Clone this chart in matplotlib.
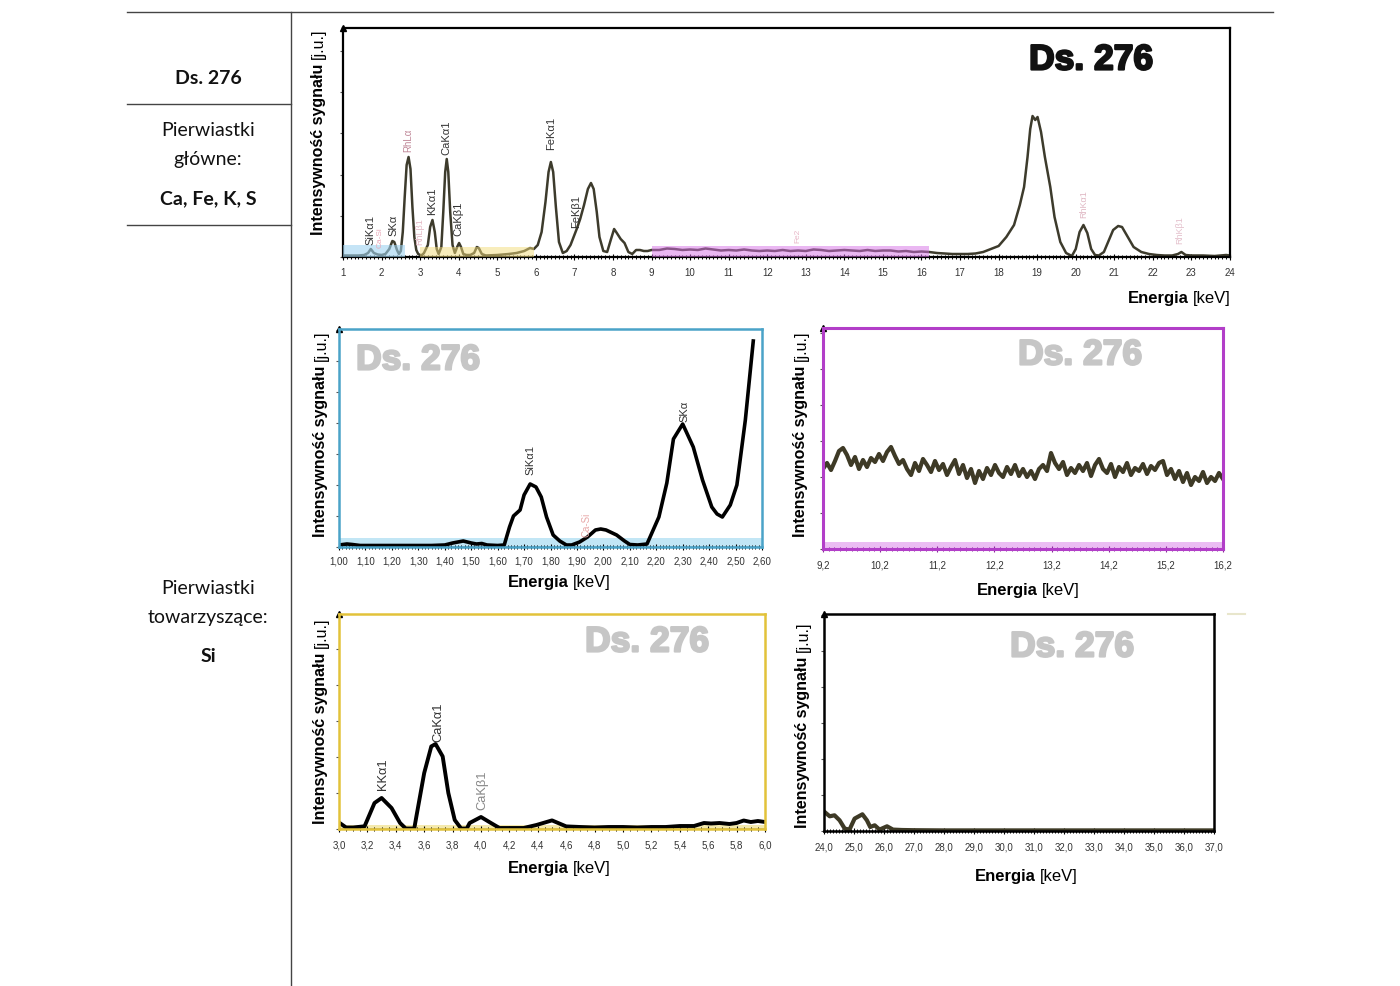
import numpy as np
import matplotlib
matplotlib.use('Agg')
import matplotlib.pyplot as plt
import matplotlib.patheffects as pe
from matplotlib.ticker import MultipleLocator

W, H = 1400, 986
NARROW = ['Liberation Sans Narrow', 'Liberation Sans', 'DejaVu Sans']
ARIAL = ['Liberation Sans', 'DejaVu Sans']
TABLE = ['Lato', 'DejaVu Sans']
plt.rcParams['font.family'] = NARROW

# full spectrum 1-24 keV (intensity in arbitrary units)
main_kev = [1.00, 1.20, 1.40, 1.55, 1.65, 1.72, 1.80, 1.90, 2.00, 2.10, 2.20, 2.28, 2.33, 2.40,
            2.45, 2.50, 2.55, 2.60, 2.65, 2.70, 2.75, 2.80, 2.85, 2.90, 2.95, 3.00, 3.05, 3.10,
            3.20, 3.26, 3.32, 3.38, 3.43, 3.48, 3.55, 3.60, 3.65, 3.69, 3.73, 3.78, 3.84, 3.90,
            3.96, 4.01, 4.06, 4.12, 4.20, 4.30, 4.40, 4.47, 4.52, 4.60, 4.70, 5.00, 5.30, 5.50,
            5.70, 5.85, 5.95, 6.05, 6.15, 6.25, 6.33, 6.39, 6.45, 6.52, 6.60, 6.70, 6.80, 6.90,
            7.00, 7.06, 7.15, 7.25, 7.35, 7.43, 7.50, 7.58, 7.65, 7.75, 7.85, 7.95, 8.03, 8.10,
            8.20, 8.30, 8.40, 8.50, 8.60, 8.70, 8.80, 8.90, 9.00,
            9.2, 9.4, 9.6, 9.8, 10.0, 10.2, 10.4, 10.6, 10.8, 11.0, 11.2, 11.4, 11.6, 11.8,
            12.0, 12.2, 12.4, 12.6, 12.8, 13.0, 13.2, 13.4, 13.6, 13.8, 14.0, 14.2, 14.4, 14.6,
            14.8, 15.0, 15.2, 15.4, 15.6, 15.8, 16.0, 16.2,
            16.4, 16.6, 16.8, 17.0, 17.2, 17.4, 17.6, 17.8, 18.0, 18.2, 18.4, 18.55, 18.66,
            18.75, 18.82, 18.88, 18.95, 19.01, 19.10, 19.20, 19.34, 19.45, 19.60, 19.75, 19.90,
            20.00, 20.10, 20.20, 20.30, 20.40, 20.50, 20.60, 20.73, 20.85, 20.97, 21.10, 21.20,
            21.35, 21.50, 21.70, 21.90, 22.10, 22.30, 22.50, 22.65, 22.74, 22.85, 23.00, 23.30,
            23.60, 23.90, 24.00]
main_int = [1.5, 1.5, 1.5, 2, 4, 8, 4, 2.5, 2, 3, 8, 16, 15, 7,
            3, 6, 25, 60, 92, 100, 88, 50, 20, 7, 3, 2, 2, 4,
            12, 30, 37, 25, 8, 3, 10, 45, 85, 98, 85, 45, 12, 4,
            10, 14, 10, 3, 2, 2, 4, 10, 9, 3, 1.5, 2, 3, 4,
            6, 9, 8, 12, 25, 55, 85, 95, 85, 50, 15, 4, 6, 12,
            22, 28, 38, 52, 68, 74, 68, 45, 20, 6, 5, 18, 28, 24,
            18, 14, 5, 3, 7, 7, 6, 6, 7,
            7, 8.5, 8, 7, 7.5, 7, 8.5, 7.5, 6.5, 7, 6.5, 7.5, 6.5, 6,
            6.5, 6, 7, 6, 6.5, 6, 7.5, 7, 6, 6.5, 7, 6.5, 6, 7,
            6, 6.5, 6.5, 5.5, 6, 5, 5.5, 5,
            4, 3.5, 3, 3, 3, 3.5, 5, 8, 11, 20, 32, 52, 70,
            100, 128, 141, 137, 140, 125, 100, 70, 40, 15, 4, 1,
            8, 25, 32, 24, 8, 2, 1.5, 5, 16, 27, 31, 30,
            20, 10, 5, 3, 2, 1.5, 1.5, 3, 5, 2, 1.5, 1.5,
            1, 2, 1.5]
main_ticks = list(range(1, 25))

# zoom 1.00-2.60 keV
si_kev = [1.00, 1.03, 1.05, 1.08, 1.20, 1.35, 1.40, 1.43, 1.47, 1.50, 1.52, 1.54, 1.56, 1.60,
          1.625, 1.645, 1.66, 1.685, 1.70, 1.723, 1.745, 1.765, 1.785, 1.81, 1.835, 1.86, 1.88,
          1.91, 1.94, 1.97, 1.99, 2.01, 2.05, 2.08, 2.10, 2.13, 2.165, 2.19, 2.21, 2.24, 2.265,
          2.30, 2.34, 2.375, 2.41, 2.43, 2.45, 2.48, 2.505, 2.537, 2.567]
si_int = [2, 3, 2.5, 1.5, 1.5, 1.5, 2, 4, 6, 4, 3, 3.5, 2, 1.5,
          2, 20, 31, 37, 52, 63, 60, 50, 30, 12, 6, 2, 2,
          5, 10, 17, 18, 17, 12, 6, 2.5, 2, 3, 18, 30, 64, 108,
          123, 100, 67, 40, 33, 30, 42, 62, 127, 206]
si_ticks = [1.00, 1.10, 1.20, 1.30, 1.40, 1.50, 1.60, 1.70, 1.80, 1.90, 2.00, 2.10, 2.20,
            2.30, 2.40, 2.50, 2.60]

# zoom 9.2-16.2 keV
mid_kev = np.round(np.arange(9.2, 16.2001, 0.07), 2)
mid_int = [80, 86, 79, 88, 98, 101, 94, 84, 92, 80, 89, 82, 91, 87, 95, 88, 97, 102, 93, 85,
           89, 80, 74, 86, 78, 90, 84, 77, 88, 79, 85, 74, 82, 89, 75, 84, 71, 80, 66, 78,
           70, 81, 74, 84, 76, 72, 82, 75, 84, 73, 80, 72, 78, 70, 80, 84, 78, 96, 86, 80,
           87, 74, 81, 76, 84, 78, 86, 73, 84, 90, 80, 76, 85, 72, 82, 77, 86, 74, 81, 78,
           85, 75, 83, 79, 86, 88, 74, 80, 70, 78, 67, 76, 64, 72, 68, 77, 66, 72, 68, 76, 70]
mid_ticks = [9.2, 10.2, 11.2, 12.2, 13.2, 14.2, 15.2, 16.2]

# zoom 3.0-6.0 keV
ca_kev = [3.00, 3.05, 3.10, 3.18, 3.25, 3.30, 3.37, 3.43, 3.47, 3.53, 3.545, 3.60, 3.65, 3.68,
          3.73, 3.77, 3.815, 3.86, 3.90, 3.92, 4.00, 4.07, 4.13, 4.20, 4.30, 4.39, 4.50, 4.60,
          4.70, 4.80, 4.90, 5.00, 5.10, 5.20, 5.30, 5.40, 5.50, 5.57, 5.62, 5.68, 5.75, 5.80,
          5.85, 5.90, 5.95, 6.00]
ca_int = [6.5, 1.5, 1.5, 2.7, 26, 31, 21, 6, 0.5, 0.5, 12.6, 56, 82.6, 85,
          72.6, 36, 9, 0.5, 0.5, 6, 12, 6, 1, 1, 1, 4, 8.6, 2.6,
          2, 1.5, 2, 2, 1.5, 2, 2, 3, 3, 6, 5.5, 6, 5, 6,
          8.5, 7, 8, 7]
ca_ticks = [3.0, 3.2, 3.4, 3.6, 3.8, 4.0, 4.2, 4.4, 4.6, 4.8, 5.0, 5.2, 5.4, 5.6, 5.8, 6.0]

# zoom 24-37 keV
hi_kev = [24.02, 24.19, 24.35, 24.52, 24.69, 24.85, 25.02, 25.28, 25.43, 25.54, 25.69, 25.85,
          26.10, 26.30, 26.60, 27.0, 28.0, 29.0, 30.0, 31.0, 32.0, 33.0, 34.0, 35.0, 36.0, 37.0]
hi_int = [19, 14.7, 15.7, 10.7, 2.4, 1.4, 12.4, 16.7, 10.7, 4, 5.7, 1.4,
          4.7, 1.4, 1, 0.8, 0.6, 0.6, 0.6, 0.6, 0.6, 0.6, 0.6, 0.6, 0.6, 0.6]
hi_ticks = list(range(24, 38))

fig = plt.figure(figsize=(14, 9.86), dpi=100)
bg = fig.add_axes([0, 0, 1, 1])
bg.set_xlim(0, W)
bg.set_ylim(H, 0)
bg.axis('off')


def px_axes(x0, y0, x1, y1):
    a = fig.add_axes([x0 / W, 1 - y1 / H, (x1 - x0) / W, (y1 - y0) / H])
    a.set_facecolor('none')
    return a


def style(ax, frame, lw, xlim, ylim, ticks, labels, minor, ystep, pad):
    ax.set_xlim(xlim)
    ax.set_ylim(ylim)
    for s in ax.spines.values():
        s.set_color(frame)
        s.set_linewidth(lw)
    ax.set_xticks(ticks)
    ax.set_xticklabels(labels)
    ax.xaxis.set_minor_locator(MultipleLocator(minor))
    ax.tick_params(axis='x', which='major', direction='inout', length=4, width=0.8, color='k',
                   labelsize=7, labelcolor='#333333', pad=pad)
    ax.tick_params(axis='x', which='minor', direction='inout', length=3, width=0.7, color='k')
    ax.set_yticks(np.arange(0, ylim[1], ystep))
    ax.set_yticklabels([])
    ax.tick_params(axis='y', direction='out', length=2.5, width=0.8, color='#555555')
    ax.plot([0], [1], marker='^', ms=4, color='k', transform=ax.transAxes, clip_on=False)


def two_part(x, y, bold, normal, size, vertical):
    if vertical:
        t = bg.text(x, y, bold, rotation=90, ha='center', va='bottom', fontsize=size,
                    fontweight='bold')
        bg.annotate(normal, xy=(0.5, 1), xycoords=t, xytext=(0, 3.5), textcoords='offset points',
                    rotation=90, ha='center', va='bottom', fontsize=size)
    else:
        t = bg.text(x, y, bold, ha='left', va='center', fontsize=size, fontweight='bold')
        bg.annotate(normal, xy=(1, 0.5), xycoords=t, xytext=(3, 0), textcoords='offset points',
                    ha='left', va='center', fontsize=size)


def peak_label(ax, x, y, s, color='#333333', size=8):
    ax.text(x, y, s, rotation=90, ha='center', va='bottom', fontsize=size, color=color,
            family=ARIAL)


def stamp(x, y, color):
    bg.text(x, y, 'Ds. 276', ha='center', va='center', fontsize=25.5, fontweight='heavy',
            family=ARIAL, color=color, zorder=0,
            path_effects=[pe.withStroke(linewidth=1.6, foreground=color)])


def comma(v, d):
    return f'{v:.{d}f}'.replace('.', ',')


# table on the left
line_kw = dict(color='#444444', lw=1)
bg.plot([127, 1273], [12, 12], **line_kw)
bg.plot([291, 291], [12, 986], **line_kw)
bg.plot([127, 291], [104, 104], **line_kw)
bg.plot([127, 291], [225, 225], **line_kw)
bg.plot([1228, 1245], [614, 614], color='#e8e6cc', lw=1.5)
tkw = dict(ha='center', va='center', fontsize=14, family=TABLE, color='#111111')
bg.text(208, 78, 'Ds. 276', fontweight='bold', **tkw)
bg.text(208, 131, 'Pierwiastki', **tkw)
bg.text(208, 160, 'główne:', **tkw)
bg.text(208, 199, 'Ca, Fe, K, S', fontweight='bold', **tkw)
bg.text(208, 589, 'Pierwiastki', **tkw)
bg.text(208, 618, 'towarzyszące:', **tkw)
bg.text(208, 657, 'Si', fontweight='bold', **tkw)

# main panel
ax = px_axes(343, 28, 1230, 257)
style(ax, 'k', 1.6, (1, 24), (0, 229), main_ticks, [str(t) for t in main_ticks], 0.1, 41.2, 6)
ax.plot(main_kev, main_int, color='#3d3b2c', lw=1.8, zorder=2)
ax.axvspan(1.0, 2.6, ymax=12 / 229, color='#9fd3f0', alpha=0.6, lw=0, zorder=3)
ax.axvspan(3.0, 5.95, ymax=10 / 229, color='#f2dc7a', alpha=0.5, lw=0, zorder=3)
ax.axvspan(9.0, 16.2, ymax=11 / 229, color='#d670e6', alpha=0.5, lw=0, zorder=3)
peak_label(ax, 1.72, 12, 'SiKα1')
peak_label(ax, 1.97, 9, 'Ca-Si', '#e8a8b8', 6)
peak_label(ax, 2.31, 21, 'SKα')
peak_label(ax, 2.70, 105, 'RhLα', '#c08898', 7)
peak_label(ax, 3.00, 12, 'RhLβ1', '#e4b8c4', 6.5)
peak_label(ax, 3.31, 42, 'KKα1')
peak_label(ax, 3.69, 102, 'CaKα1')
peak_label(ax, 4.00, 21, 'CaKβ1')
peak_label(ax, 6.40, 107, 'FeKα1')
peak_label(ax, 7.05, 29, 'FeKβ1')
peak_label(ax, 12.8, 14, 'Fe2', '#e8b8c8', 6)
peak_label(ax, 20.2, 39, 'RhKα1', '#e0b8c4', 6.5)
peak_label(ax, 22.7, 13, 'RhKβ1', '#e4c0cc', 6.5)
stamp(1091, 60, '#111111')
two_part(1128, 299, 'Energia', '[keV]', 12, False)
two_part(318, 235, 'Intensywność sygnału', '[j.u.]', 11.5, True)

# Si / S window
ax = px_axes(339, 329, 762, 547)
style(ax, '#4aa3c8', 1.8, (1.0, 2.6), (0, 218), si_ticks, [comma(t, 2) for t in si_ticks],
      0.0125, 31, 5)
ax.axhspan(0, 9, color='#a9dcf2', alpha=0.7, lw=0)
ax.axhline(0, color='k', lw=1)
ax.plot(si_kev, si_int, color='k', lw=2.6)
peak_label(ax, 1.723, 72, 'SiKα1')
peak_label(ax, 1.935, 10, 'Ca-Si', '#e8a8a8', 7)
peak_label(ax, 2.306, 125, 'SKα')
stamp(418, 360, '#c6c6c6')
two_part(508, 583, 'Energia', '[keV]', 12, False)
two_part(321, 537, 'Intensywność sygnału', '[j.u.]', 11.5, True)

# 9.2-16.2 window
ax = px_axes(823, 328, 1223, 549)
style(ax, '#b23ec8', 2.2, (9.2, 16.2), (0, 221), mid_ticks, [comma(t, 1) for t in mid_ticks],
      0.1, 36, 6)
ax.tick_params(axis='x', which='both', color='#8a2a9a')
ax.axhspan(0, 7, color='#e3a0ee', alpha=0.7, lw=0)
ax.plot(mid_kev, mid_int, color='#3e3a26', lw=3)
stamp(1080, 355, '#c6c6c6')
two_part(977, 590, 'Energia', '[keV]', 12, False)
two_part(801, 537, 'Intensywność sygnału', '[j.u.]', 11.5, True)

# 3-6 keV window
ax = px_axes(339, 614, 765, 829)
style(ax, '#e2c23a', 1.8, (3.0, 6.0), (0, 215), ca_ticks, [comma(t, 1) for t in ca_ticks],
      0.05, 36, 6)
ax.axhspan(0, 4, color='#f0e08a', alpha=0.7, lw=0)
ax.axhline(0, color='k', lw=1)
ax.plot(ca_kev, ca_int, color='k', lw=2.8)
peak_label(ax, 3.31, 39, 'KKα1', size=9.3)
peak_label(ax, 3.70, 87, 'CaKα1', size=9.3)
peak_label(ax, 4.01, 19, 'CaKβ1', '#888888', 9.3)
stamp(647, 642, '#c6c6c6')
two_part(508, 869, 'Energia', '[keV]', 12, False)
two_part(321, 824, 'Intensywność sygnału', '[j.u.]', 11.5, True)

# 24-37 keV window
ax = px_axes(824, 614, 1214, 831)
style(ax, 'k', 1.8, (24, 37), (0, 217), hi_ticks, [comma(t, 1) for t in hi_ticks], 0.1, 36, 6)
ax.plot(hi_kev, hi_int, color='#3e3a26', lw=3)
stamp(1072, 647, '#c6c6c6')
two_part(975, 877, 'Energia', '[keV]', 12, False)
two_part(803, 828, 'Intensywność sygnału', '[j.u.]', 11.5, True)

fig.savefig('out.png', dpi=100)
